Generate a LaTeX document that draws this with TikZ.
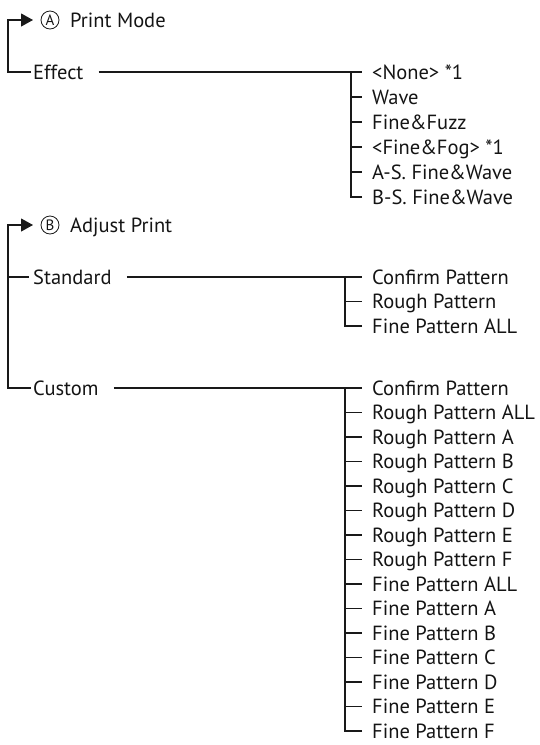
\documentclass[tikz,border=0pt]{standalone}
\usepackage{fontspec}
\setmainfont{PT Sans}
\usetikzlibrary{arrows.meta}
\begin{document}
\begin{tikzpicture}[x=1pt,y=-1pt,
  lbl/.style={anchor=west,inner sep=0pt,text height=14pt,text depth=0pt,font=\fontsize{20.5}{20.5}\selectfont,text=black!92},
  ln/.style={line width=1.1pt,draw=black!90},
  arr/.style={ln,-{Triangle[length=12pt,width=13pt]}},
  circ/.style={circle,draw=black!90,line width=0.8pt,minimum size=18pt,inner sep=0pt,font=\fontsize{15}{15}\selectfont,text=black!92}]
\useasboundingbox (0,0) rectangle (539,745);

% ---------- Section A ----------
\coordinate (ta) at (8,20);
\coordinate (tipa) at (33,20);
\node[circ] (ca) at (50,20) {A};
\node[lbl] (pm) at (70,20) {Print Mode};
\node[lbl] (eff) at (33,72) {Effect};
\draw[arr] ([xshift=-2pt]eff.west) -| (ta) -- (tipa);

\foreach \t [count=\k] in {{<None> *1},Wave,Fine\&Fuzz,{<Fine\&Fog> *1},A-S. Fine\&Wave,B-S. Fine\&Wave}{
  \node[lbl] (e\k) at (372,{72+25*(\k-1)}) {\t};
}
\draw[ln] ([xshift=15pt]eff.east) -- ([xshift=-10pt]e1.west);
\draw[ln] ([xshift=-10pt]e6.west) -| (351,72);
\foreach \k in {2,...,5}{
  \draw[ln] (351,{72+25*(\k-1)}) -- ([xshift=-10pt]e\k.west);
}

% ---------- Section B ----------
\coordinate (tb) at (8,225);
\coordinate (tipb) at (33,225);
\node[circ] (cb) at (50,225) {B};
\node[lbl] (ap) at (70,225) {Adjust Print};
\node[lbl] (std) at (33,277) {Standard};
\node[lbl] (cus) at (33,388) {Custom};
\draw[arr] ([xshift=-2pt]cus.west) -| (tb) -- (tipb);
\draw[ln] (8,277) -- ([xshift=-4pt]std.west);

% Standard list
\foreach \t [count=\k] in {Confirm Pattern,Rough Pattern,Fine Pattern ALL}{
  \node[lbl] (s\k) at (372,{277+24.5*(\k-1)}) {\t};
}
\draw[ln] ([xshift=15pt]std.east) -- ([xshift=-10pt]s1.west);
\draw[ln] ([xshift=-10pt]s3.west) -| (345,277);
\draw[ln] (345,301.5) -- ([xshift=-10pt]s2.west);

% Custom list
\foreach \t [count=\k] in {Confirm Pattern,Rough Pattern ALL,Rough Pattern A,Rough Pattern B,Rough Pattern C,Rough Pattern D,Rough Pattern E,Rough Pattern F,Fine Pattern ALL,Fine Pattern A,Fine Pattern B,Fine Pattern C,Fine Pattern D,Fine Pattern E,Fine Pattern F}{
  \node[lbl] (c\k) at (372,{388+24.5*(\k-1)}) {\t};
}
\draw[ln] ([xshift=15pt]cus.east) -- ([xshift=-10pt]c1.west);
\draw[ln] ([xshift=-10pt]c15.west) -| (345,388);
\foreach \k in {2,...,14}{
  \draw[ln] (345,{388+24.5*(\k-1)}) -- ([xshift=-10pt]c\k.west);
}
\end{tikzpicture}
\end{document}
